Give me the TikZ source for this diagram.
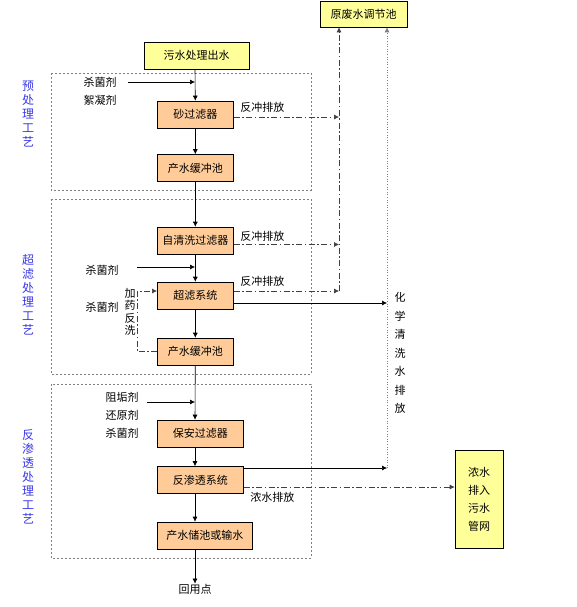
\documentclass[tikz,border=0pt]{standalone}
\usepackage{fontspec}
\setmainfont{Noto Sans CJK SC}
\usetikzlibrary{arrows.meta}
\definecolor{peach}{HTML}{FFCC99}
\definecolor{paleyellow}{HTML}{FFFF99}
\definecolor{stageblue}{HTML}{3838E8}
\begin{document}
\begin{tikzpicture}[x=1pt,y=-1pt,>={Latex[length=5pt,width=5pt]},line width=0.6pt,
    every node/.style={font=\fontsize{11}{13}\selectfont,inner sep=0pt},
    unit/.style={draw,fill=peach,minimum height=27pt,anchor=west},
    outlet/.style={draw,fill=paleyellow},
    stage/.style={draw=gray,dash pattern=on 2pt off 2pt},
    drain/.style={draw=black!75,dash pattern=on 6pt off 2.5pt on 1.5pt off 2.5pt},
    stagelabel/.style={text=stageblue,align=center,font=\fontsize{12}{14}\selectfont}]
    \useasboundingbox (0,0) rectangle (576,607);
    \coordinate (main) at (195,0);
    \coordinate (drainx) at (339,0);
    \coordinate (chemx) at (387,0);
    \begin{scope}
      \draw[stage] (51,73) rectangle (311,190);
      \draw[stage] (51,199) rectangle (311,374);
      \draw[stage] (51,384) rectangle (311,558);
      \node[stagelabel] (prelabel) at (28,114) {预\\处\\理\\工\\艺};
      \node[stagelabel] (uflabel) at (28,295) {超\\滤\\处\\理\\工\\艺};
      \node[stagelabel] (rolabel) at (28,477) {反\\渗\\透\\处\\理\\工\\艺};
    \end{scope}
    \node[outlet,minimum width=87pt,minimum height=26pt] (pool) at (363.5,14) {原废水调节池};
    \node[outlet,minimum width=105pt,minimum height=27pt] (inflow) at (196.5,55.5) {污水处理出水};
    \node[unit,minimum width=76pt] (sand) at (157,114.5) {砂过滤器};
    \node[unit,minimum width=76pt] (buf1) at (157,168) {产水缓冲池};
    \node[unit,minimum width=76pt] (selfc) at (157,240.5) {自清洗过滤器};
    \node[unit,minimum width=76pt] (uf) at (157,295.5) {超滤系统};
    \node[unit,minimum width=76pt] (buf2) at (157,351.5) {产水缓冲池};
    \node[unit,minimum width=86pt] (guard) at (157,433.5) {保安过滤器};
    \node[unit,minimum width=86pt] (ro) at (157,480) {反渗透系统};
    \node[unit,minimum width=95pt] (store) at (157,535.5) {产水储池或输水};
    \node[outlet,minimum width=48pt,minimum height=98pt,align=center,font=\fontsize{11}{18}\selectfont] (sewer) at (479,499) {浓水\\排入\\污水\\管网};
    \node (reuse) at (195,589) {回用点};
    \node (dose1) at (100,82) {杀菌剂};
    \node (dose2) at (100,100) {絮凝剂};
    \node (dose3) at (102,270) {杀菌剂};
    \node (dose4) at (102,307) {杀菌剂};
    \node (dose5) at (122,397) {阻垢剂};
    \node (dose6) at (122,415) {还原剂};
    \node (dose7) at (122,433) {杀菌剂};
    \coordinate (in1) at (128,82);
    \coordinate (in2) at (137,267);
    \coordinate (in3) at (147,402);
    \foreach \c in {in1,in2,in3}
      \draw[->] (\c) -- (\c -| main);
    \draw[->] (inflow.south -| main) -- (sand.north);
    \draw[->] (sand) -- (buf1);
    \draw[->] (buf1) -- (selfc);
    \draw[->] (selfc) -- (uf);
    \draw[->] (uf) -- (buf2);
    \draw[->] (buf2.south) -- (guard.north -| main);
    \draw[->] (guard.south -| main) -- (ro.north -| main);
    \draw[->] (ro.south -| main) -- (store.north -| main);
    \draw[->] (store.south -| main) -- (reuse);
    \coordinate (uftop) at ([yshift=4.5pt]uf.east);
    \draw[drain,->] ([yshift=-2.5pt]sand.east) -- ([yshift=-2.5pt]sand.east -| drainx);
    \draw[drain,->] ([yshift=-4pt]selfc.east) -- ([yshift=-4pt]selfc.east -| drainx);
    \draw[drain,->] (uftop) -- (uftop -| drainx);
    \draw[drain,->] (uftop -| drainx) -- (pool.south -| drainx);
    \node[anchor=west] (bw1) at (240,107) {反冲排放};
    \node[anchor=west] (bw2) at (240,236) {反冲排放};
    \node[anchor=west] (bw3) at (240,281) {反冲排放};
    \draw[drain,->] (buf2.west) -- ++(-20,0) |- (uftop -| uf.west);
    \node[align=center,font=\fontsize{11}{12.5}\selectfont] (chemwash) at (130,312) {加\\药\\反\\洗};
    \draw[->] ([yshift=-7.5pt]uf.east) -- ([yshift=-7.5pt]uf.east -| chemx);
    \draw[->] ([yshift=12pt]ro.east) -- ([yshift=12pt]ro.east -| chemx);
    \draw[draw=gray,dotted,->] ([yshift=12pt]ro.east -| chemx) -- (pool.south -| chemx);
    \node[align=center,font=\fontsize{11}{18.5}\selectfont] (chemdrain) at (400,353) {化\\学\\清\\洗\\水\\排\\放};
    \draw[drain,->] ([yshift=-7pt]ro.east) -- ([yshift=-7pt]ro.east -| sewer.west);
    \node[anchor=west] (conc) at (250,497) {浓水排放};
\end{tikzpicture}
\end{document}
